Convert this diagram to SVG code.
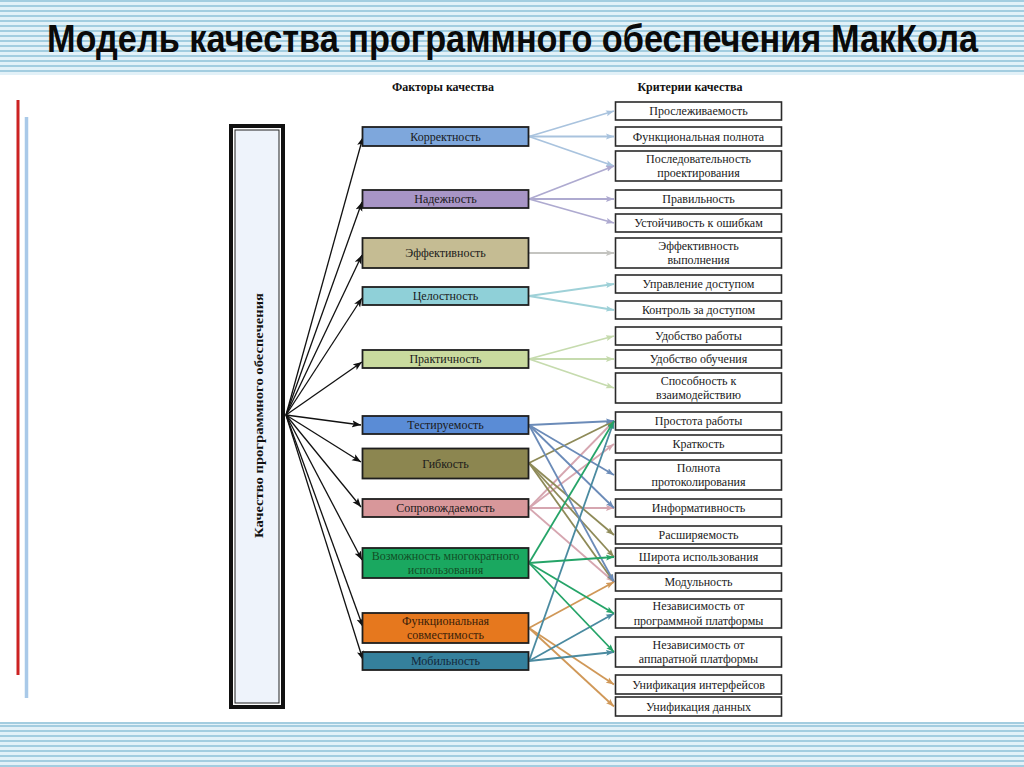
<svg xmlns="http://www.w3.org/2000/svg" width="1024" height="767" viewBox="0 0 1024 767">
<defs>
<pattern id="stripes" width="8" height="5" patternUnits="userSpaceOnUse">
<rect width="8" height="5" fill="#e2f1f8"/>
<rect y="0" width="8" height="2" fill="#a3cde0"/>
</pattern>
<marker id="mk" markerUnits="userSpaceOnUse" markerWidth="10" markerHeight="8" refX="9" refY="4" orient="auto"><path d="M0,0.5 L9,4 L0,7.5 L2,4 z" fill="#111"/></marker>
<marker id="m1" markerUnits="userSpaceOnUse" markerWidth="9" markerHeight="7" refX="8" refY="3.5" orient="auto"><path d="M0,0.5 L8,3.5 L0,6.5 L1.5,3.5 z" fill="#a9c3de"/></marker>
<marker id="m2" markerUnits="userSpaceOnUse" markerWidth="9" markerHeight="7" refX="8" refY="3.5" orient="auto"><path d="M0,0.5 L8,3.5 L0,6.5 L1.5,3.5 z" fill="#aeaad0"/></marker>
<marker id="m3" markerUnits="userSpaceOnUse" markerWidth="9" markerHeight="7" refX="8" refY="3.5" orient="auto"><path d="M0,0.5 L8,3.5 L0,6.5 L1.5,3.5 z" fill="#c4c4c0"/></marker>
<marker id="m4" markerUnits="userSpaceOnUse" markerWidth="9" markerHeight="7" refX="8" refY="3.5" orient="auto"><path d="M0,0.5 L8,3.5 L0,6.5 L1.5,3.5 z" fill="#9fd1d8"/></marker>
<marker id="m5" markerUnits="userSpaceOnUse" markerWidth="9" markerHeight="7" refX="8" refY="3.5" orient="auto"><path d="M0,0.5 L8,3.5 L0,6.5 L1.5,3.5 z" fill="#c6dbae"/></marker>
<marker id="m6" markerUnits="userSpaceOnUse" markerWidth="9" markerHeight="7" refX="8" refY="3.5" orient="auto"><path d="M0,0.5 L8,3.5 L0,6.5 L1.5,3.5 z" fill="#6b8bb8"/></marker>
<marker id="m7" markerUnits="userSpaceOnUse" markerWidth="9" markerHeight="7" refX="8" refY="3.5" orient="auto"><path d="M0,0.5 L8,3.5 L0,6.5 L1.5,3.5 z" fill="#8e8a58"/></marker>
<marker id="m8" markerUnits="userSpaceOnUse" markerWidth="9" markerHeight="7" refX="8" refY="3.5" orient="auto"><path d="M0,0.5 L8,3.5 L0,6.5 L1.5,3.5 z" fill="#d6a6b0"/></marker>
<marker id="m9" markerUnits="userSpaceOnUse" markerWidth="9" markerHeight="7" refX="8" refY="3.5" orient="auto"><path d="M0,0.5 L8,3.5 L0,6.5 L1.5,3.5 z" fill="#25a468"/></marker>
<marker id="m10" markerUnits="userSpaceOnUse" markerWidth="9" markerHeight="7" refX="8" refY="3.5" orient="auto"><path d="M0,0.5 L8,3.5 L0,6.5 L1.5,3.5 z" fill="#d09858"/></marker>
<marker id="m11" markerUnits="userSpaceOnUse" markerWidth="9" markerHeight="7" refX="8" refY="3.5" orient="auto"><path d="M0,0.5 L8,3.5 L0,6.5 L1.5,3.5 z" fill="#4a8aa0"/></marker>
</defs>
<style>
.f { stroke:#1e1e1e; stroke-width:1.8; }
.c { fill:#ffffff; stroke:#2a2a2a; stroke-width:1.6; }
.t { font-family:"Liberation Serif","DejaVu Serif",serif; font-size:12px; fill:#1a1a1a; text-anchor:middle; }
.h { font-family:"Liberation Serif","DejaVu Serif",serif; font-size:12px; font-weight:bold; fill:#111; text-anchor:middle; }
.k line { stroke:#111; stroke-width:1.3; marker-end:url(#mk); }
.l { stroke-width:1.8; fill:none; }
</style>

<rect width="1024" height="767" fill="#ffffff"/>
<rect x="0" y="0" width="1024" height="75" fill="url(#stripes)"/>
<rect x="0" y="722" width="1024" height="45" fill="url(#stripes)"/>
<line x1="0" y1="723" x2="1024" y2="723" stroke="#a3cde0" stroke-width="2"/>

<text transform="translate(47,52) scale(1,1.1)" x="0" y="0" textLength="931" lengthAdjust="spacingAndGlyphs" font-family="'Liberation Sans','Arial',sans-serif" font-weight="bold" font-size="36" fill="#0a0a0a">Модель качества программного обеспечения МакКола</text>

<line x1="18" y1="100" x2="18" y2="675" stroke="#cc2222" stroke-width="3"/>
<line x1="26.5" y1="117" x2="26.5" y2="698" stroke="#a9c9e8" stroke-width="3.5"/>

<text class="h" x="443" y="91">Факторы качества</text>
<text class="h" x="690" y="91">Критерии качества</text>

<g id="connectors">
<g class="k">
<line x1="286" y1="415" x2="363" y2="137"/>
<line x1="286" y1="415" x2="362" y2="202"/>
<line x1="286" y1="415" x2="362" y2="255"/>
<line x1="286" y1="415" x2="362" y2="298"/>
<line x1="286" y1="415" x2="362" y2="362"/>
<line x1="286" y1="415" x2="361" y2="425"/>
<line x1="286" y1="415" x2="361" y2="462"/>
<line x1="286" y1="415" x2="361" y2="507"/>
<line x1="286" y1="415" x2="362" y2="560"/>
<line x1="286" y1="415" x2="363" y2="627"/>
<line x1="286" y1="415" x2="363" y2="660"/>
</g>
<g class="l" stroke="#a9c3de" marker-end="url(#m1)">
<line x1="529" y1="136.5" x2="614" y2="111"/>
<line x1="529" y1="136.5" x2="614" y2="136.5"/>
<line x1="529" y1="136.5" x2="614" y2="166"/>
</g>
<g class="l" stroke="#aeaad0" marker-end="url(#m2)">
<line x1="529" y1="199" x2="614" y2="166"/>
<line x1="529" y1="199" x2="614" y2="199"/>
<line x1="529" y1="199" x2="614" y2="223"/>
</g>
<g class="l" stroke="#c4c4c0" marker-end="url(#m3)">
<line x1="529" y1="253" x2="614" y2="253"/>
</g>
<g class="l" stroke="#9fd1d8" marker-end="url(#m4)">
<line x1="529" y1="296" x2="614" y2="284"/>
<line x1="529" y1="296" x2="614" y2="310"/>
</g>
<g class="l" stroke="#c6dbae" marker-end="url(#m5)">
<line x1="529" y1="359" x2="614" y2="336"/>
<line x1="529" y1="359" x2="614" y2="359"/>
<line x1="529" y1="359" x2="614" y2="388"/>
</g>
<g class="l" stroke="#d6a6b0" marker-end="url(#m8)">
<line x1="529" y1="508" x2="614" y2="421"/>
<line x1="529" y1="508" x2="614" y2="444"/>
<line x1="529" y1="508" x2="614" y2="508"/>
<line x1="529" y1="508" x2="614" y2="582"/>
</g>
<g class="l" stroke="#8e8a58" marker-end="url(#m7)">
<line x1="529" y1="463" x2="614" y2="421"/>
<line x1="529" y1="463" x2="614" y2="535"/>
<line x1="529" y1="463" x2="614" y2="557"/>
<line x1="529" y1="463" x2="614" y2="582"/>
</g>
<g class="l" stroke="#6b8bb8" marker-end="url(#m6)">
<line x1="529" y1="425" x2="614" y2="421"/>
<line x1="529" y1="425" x2="614" y2="475"/>
<line x1="529" y1="425" x2="614" y2="508"/>
<line x1="529" y1="425" x2="614" y2="582"/>
</g>
<g class="l" stroke="#d09858" marker-end="url(#m10)">
<line x1="529" y1="628" x2="614" y2="582"/>
<line x1="529" y1="628" x2="614" y2="684.5"/>
<line x1="529" y1="628" x2="614" y2="706.5"/>
</g>
<g class="l" stroke="#4a8aa0" marker-end="url(#m11)">
<line x1="529" y1="661" x2="614" y2="421"/>
<line x1="529" y1="661" x2="614" y2="613.5"/>
<line x1="529" y1="661" x2="614" y2="652"/>
</g>
<g class="l" stroke="#25a468" marker-end="url(#m9)">
<line x1="529" y1="563" x2="614" y2="421"/>
<line x1="529" y1="563" x2="614" y2="557"/>
<line x1="529" y1="563" x2="614" y2="613.5"/>
<line x1="529" y1="563" x2="614" y2="652"/>
</g>
</g>

<g id="quality">
<rect x="231" y="126" width="52" height="581" fill="#ffffff" stroke="#111" stroke-width="4"/>
<rect x="235" y="130" width="44" height="573" fill="#eef3fb" stroke="#222" stroke-width="1"/>
<text class="h" transform="translate(262.5,415.5) rotate(-90)" font-size="14" textLength="245" lengthAdjust="spacingAndGlyphs">Качество программного обеспечения</text>
</g>

<g id="f-korrektnost"><rect class="f" x="362.5" y="127" width="166" height="19" fill="#7ea7dc"/><text class="t" x="445.5" y="140.5">Корректность</text></g>
<g id="f-nadezhnost"><rect class="f" x="362.5" y="190" width="166" height="18" fill="#a895c6"/><text class="t" x="445.5" y="203">Надежность</text></g>
<g id="f-effektivnost"><rect class="f" x="362.5" y="238" width="166" height="30" fill="#c5bc93"/><text class="t" x="445.5" y="257">Эффективность</text></g>
<g id="f-celostnost"><rect class="f" x="362.5" y="287" width="166" height="18" fill="#8fd0d8"/><text class="t" x="445.5" y="300">Целостность</text></g>
<g id="f-praktichnost"><rect class="f" x="362.5" y="350" width="166" height="18" fill="#c9da9e"/><text class="t" x="445.5" y="363">Практичность</text></g>
<g id="f-testiruemost"><rect class="f" x="362.5" y="416" width="166" height="18" fill="#5a8cd6"/><text class="t" x="445.5" y="429">Тестируемость</text></g>
<g id="f-gibkost"><rect class="f" x="362.5" y="448.5" width="166" height="30" fill="#8c8650"/><text class="t" x="445.5" y="467.5">Гибкость</text></g>
<g id="f-soprovozhdaemost"><rect class="f" x="362.5" y="499" width="166" height="18" fill="#d8979a"/><text class="t" x="445.5" y="512">Сопровождаемость</text></g>
<g id="f-vozmozhnost"><rect class="f" x="362.5" y="548" width="166" height="30" fill="#1aa860"/><text class="t" x="445.5" y="559.5" style="fill:#124f26">Возможность многократного</text><text class="t" x="445.5" y="574" style="fill:#124f26">использования</text></g>
<g id="f-funkcionalnaya"><rect class="f" x="362.5" y="613" width="166" height="30" fill="#e6781e"/><text class="t" x="445.5" y="624.5" style="fill:#3a1e0a">Функциональная</text><text class="t" x="445.5" y="639" style="fill:#3a1e0a">совместимость</text></g>
<g id="f-mobilnost"><rect class="f" x="362.5" y="652" width="166" height="18" fill="#35809c"/><text class="t" x="445.5" y="665" style="fill:#13283a">Мобильность</text></g>

<g id="c-proslezh"><rect class="c" x="615.5" y="102" width="166" height="18"/><text class="t" x="698.5" y="115">Прослеживаемость</text></g>
<g id="c-funkpolnota"><rect class="c" x="615.5" y="127" width="166" height="19"/><text class="t" x="698.5" y="140.5">Функциональная полнота</text></g>
<g id="c-posled"><rect class="c" x="615.5" y="151" width="166" height="30"/><text class="t" x="698.5" y="162.5">Последовательность</text><text class="t" x="698.5" y="177">проектирования</text></g>
<g id="c-pravilnost"><rect class="c" x="615.5" y="190" width="166" height="18"/><text class="t" x="698.5" y="203">Правильность</text></g>
<g id="c-ustoich"><rect class="c" x="615.5" y="214" width="166" height="18"/><text class="t" x="698.5" y="227">Устойчивость к ошибкам</text></g>
<g id="c-effvyp"><rect class="c" x="615.5" y="238" width="166" height="30"/><text class="t" x="698.5" y="249.5">Эффективность</text><text class="t" x="698.5" y="264">выполнения</text></g>
<g id="c-uprdost"><rect class="c" x="615.5" y="275" width="166" height="18"/><text class="t" x="698.5" y="288">Управление доступом</text></g>
<g id="c-kontrdost"><rect class="c" x="615.5" y="301" width="166" height="18"/><text class="t" x="698.5" y="314">Контроль за доступом</text></g>
<g id="c-udrab"><rect class="c" x="615.5" y="327" width="166" height="18"/><text class="t" x="698.5" y="340">Удобство работы</text></g>
<g id="c-udobuch"><rect class="c" x="615.5" y="350" width="166" height="18"/><text class="t" x="698.5" y="363">Удобство обучения</text></g>
<g id="c-sposob"><rect class="c" x="615.5" y="373" width="166" height="30"/><text class="t" x="698.5" y="384.5">Способность к</text><text class="t" x="698.5" y="399">взаимодействию</text></g>
<g id="c-prostota"><rect class="c" x="615.5" y="412" width="166" height="18"/><text class="t" x="698.5" y="425">Простота работы</text></g>
<g id="c-kratkost"><rect class="c" x="615.5" y="435" width="166" height="18"/><text class="t" x="698.5" y="448">Краткость</text></g>
<g id="c-polnprot"><rect class="c" x="615.5" y="460" width="166" height="30"/><text class="t" x="698.5" y="471.5">Полнота</text><text class="t" x="698.5" y="486">протоколирования</text></g>
<g id="c-inform"><rect class="c" x="615.5" y="499" width="166" height="18"/><text class="t" x="698.5" y="512">Информативность</text></g>
<g id="c-rasshir"><rect class="c" x="615.5" y="526" width="166" height="18"/><text class="t" x="698.5" y="539">Расширяемость</text></g>
<g id="c-shirota"><rect class="c" x="615.5" y="548" width="166" height="18"/><text class="t" x="698.5" y="561">Широта использования</text></g>
<g id="c-modul"><rect class="c" x="615.5" y="573" width="166" height="18"/><text class="t" x="698.5" y="586">Модульность</text></g>
<g id="c-nezprog"><rect class="c" x="615.5" y="599" width="166" height="29"/><text class="t" x="698.5" y="610">Независимость от</text><text class="t" x="698.5" y="624.5">программной платформы</text></g>
<g id="c-nezapp"><rect class="c" x="615.5" y="637" width="166" height="30"/><text class="t" x="698.5" y="648.5">Независимость от</text><text class="t" x="698.5" y="663">аппаратной платформы</text></g>
<g id="c-unifint"><rect class="c" x="615.5" y="675" width="166" height="19"/><text class="t" x="698.5" y="688.5">Унификация интерфейсов</text></g>
<g id="c-unifdan"><rect class="c" x="615.5" y="697" width="166" height="19"/><text class="t" x="698.5" y="710.5">Унификация данных</text></g>
</svg>
